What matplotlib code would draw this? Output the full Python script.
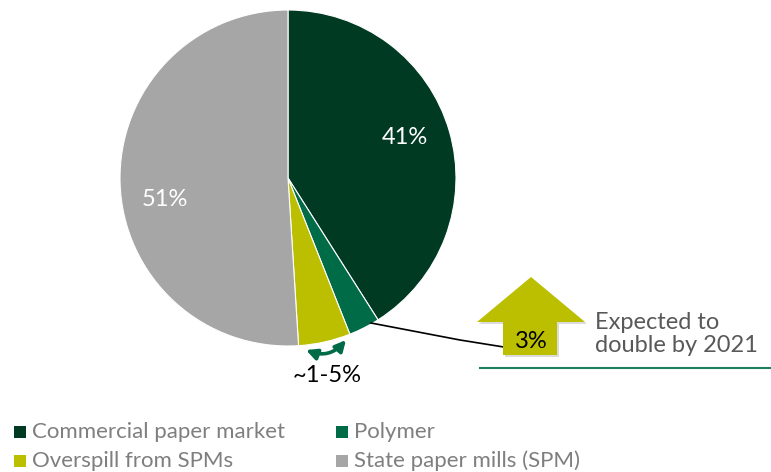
import matplotlib
matplotlib.use("Agg")
import matplotlib.pyplot as plt
from matplotlib.patches import Polygon, FancyArrowPatch, Rectangle
import numpy as np

plt.rcParams['font.family'] = ['Lato', 'DejaVu Sans']

categories = ["Commercial paper market", "Polymer", "Overspill from SPMs", "State paper mills (SPM)"]
values = [41, 3, 5, 51]
colors = ["#003A22", "#006B47", "#BBBF00", "#A6A6A6"]
pie_labels = ["41%", "", "", "51%"]
callout_value = "3%"
callout_text = "Expected to\ndouble by 2021"
range_text = "~1-5%"

W, H = 771, 472
fig = plt.figure(figsize=(W / 100, H / 100), dpi=100)
ax = fig.add_axes([0, 0, 1, 1])
ax.set_xlim(0, W)
ax.set_ylim(0, H)
ax.set_aspect('equal')
ax.axis('off')

def Y(py):
    return H - py

cx, cy, r = 288, Y(178), 168
wedges, _ = ax.pie(values, colors=colors, startangle=90, counterclock=False,
                   center=(cx, cy), radius=r,
                   wedgeprops=dict(edgecolor='white', linewidth=0.8))
ax.set_xlim(0, W)
ax.set_ylim(0, H)

# slice labels
ax.text(405, Y(137), pie_labels[0], color='white', fontsize=17, ha='center', va='center')
ax.text(165, Y(200), pie_labels[3], color='white', fontsize=17, ha='center', va='center')

# connector line
ax.plot([371, 460, 510], [Y(323), Y(340), Y(348)], color='black', lw=1.2, zorder=3)

# up arrow (with faint shadow)
pts = [(531, 277), (585, 322), (557, 322), (557, 355), (503, 355), (503, 322), (477, 322)]
shadow = [(x + 2, Y(y + 2)) for x, y in pts]
ax.add_patch(Polygon(shadow, closed=True, facecolor='#999999', edgecolor='none', alpha=0.35, zorder=3))
ax.add_patch(Polygon([(x, Y(y)) for x, y in pts], closed=True, facecolor='#BBBF00', edgecolor='none', zorder=4))
ax.text(531, Y(341), callout_value, color='black', fontsize=17, ha='center', va='center', zorder=5)

ax.text(595, Y(334), callout_text, color='#595959', fontsize=17, ha='left', va='center',
        linespacing=1.15)
ax.plot([480, 771], [Y(368), Y(368)], color='#1E7F5A', lw=1.5)

# curved double arrow
arr = FancyArrowPatch((306, Y(350)), (346, Y(340)), arrowstyle='<|-|>', mutation_scale=16,
                      connectionstyle='arc3,rad=0.35', color='#006B47', lw=2.6, zorder=5,
                      shrinkA=0, shrinkB=0)
ax.add_patch(arr)
ax.text(327, Y(375), range_text, color='black', fontsize=17, ha='center', va='center')

# legend (row-wise order)
col_x = [14, 336]
row_y = [432, 461]
for i, (cat, col) in enumerate(zip(categories, colors)):
    rr, cc = divmod(i, 2)
    x0, y0 = col_x[cc], row_y[rr]
    ax.add_patch(Rectangle((x0, Y(y0 + 6)), 12, 12, facecolor=col, edgecolor='none'))
    ax.text(x0 + 18, Y(y0), cat, color='#7F7F7F', fontsize=16, ha='left', va='center')

fig.savefig("out.png", dpi=100)
